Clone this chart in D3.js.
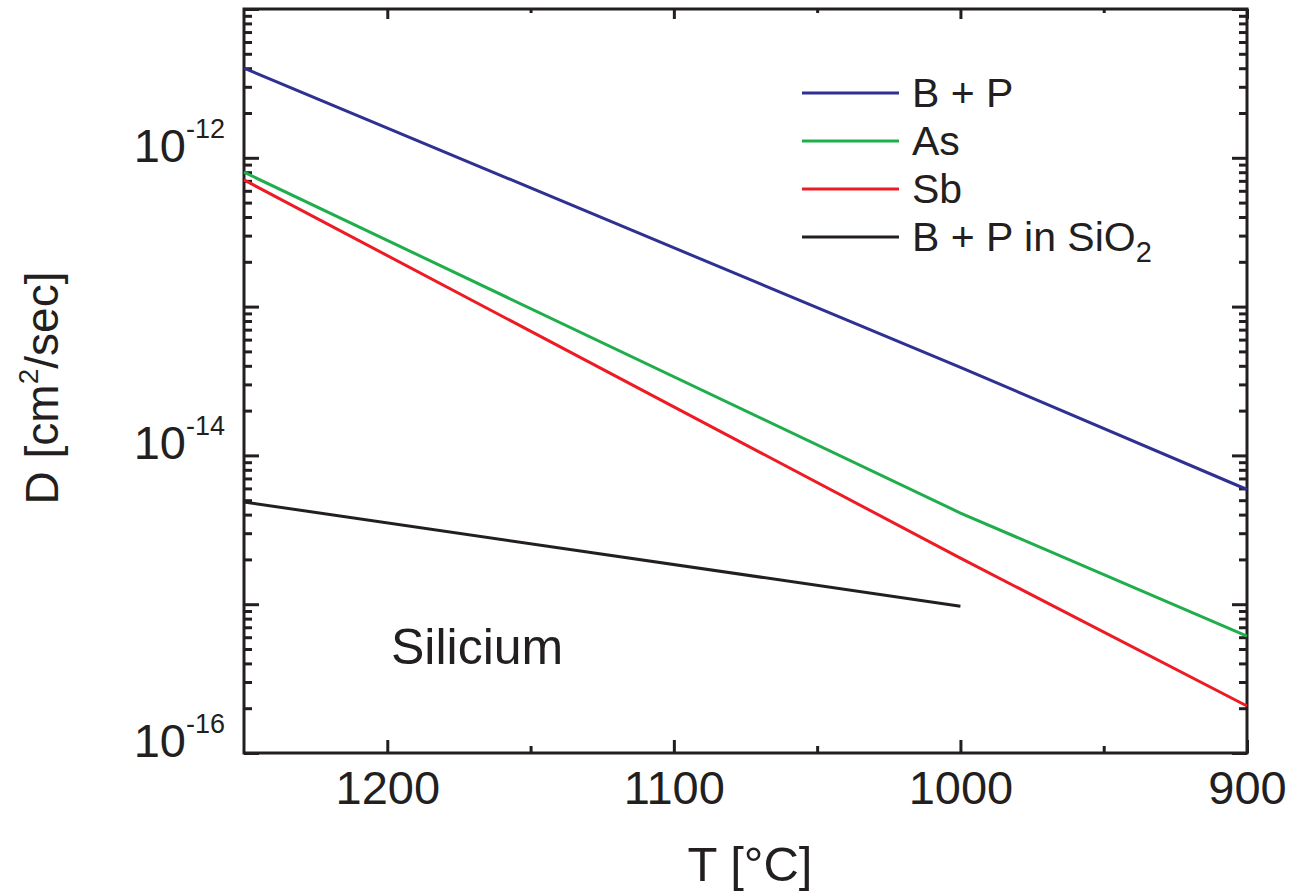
<!DOCTYPE html>
<html lang="en">
<head>
  <meta charset="UTF-8">
  <title>Diffusion coefficients</title>
  <script src="https://d3js.org/d3.v7.min.js"></script>
  <style>
    * { margin: 0; padding: 0; box-sizing: border-box; }
    body { background: #ffffff; font-family: "Liberation Sans", Arial, sans-serif; }
    svg text { fill: #231f20; }
  </style>
</head>
<body>
  <div id="chart"></div>

  <script>
    // Data
    const temps = [1250, 1000, 900];
    const dBP = [4.0e-12, 3.9e-14, 5.9e-15];
    const dAs = [8.0e-13, 4.1e-15, 6.1e-16];
    const dSb = [7.1e-13, 2.04e-15, 2.07e-16];
    const tempsOx = [1250, 1000];
    const dBPox = [4.86e-15, 9.7e-16];

    const seriesNames = ['B + P', 'As', 'Sb', 'B + P in SiO'];
    const seriesColors = ['#2e3192', '#1fae4b', '#ed1c24', '#231f20'];

    const xMajor = [1200, 1100, 1000, 900];
    const xMinor = [1150, 1050, 950];
    const yDecades = [-16, -15, -14, -13, -12, -11];
    const yLabelled = [-16, -14, -12];

    const series = [
      { name: seriesNames[0], color: seriesColors[0], pts: temps.map((t, i) => [t, dBP[i]]) },
      { name: seriesNames[1], color: seriesColors[1], pts: temps.map((t, i) => [t, dAs[i]]) },
      { name: seriesNames[2], color: seriesColors[2], pts: temps.map((t, i) => [t, dSb[i]]) },
      { name: seriesNames[3], color: seriesColors[3], pts: tempsOx.map((t, i) => [t, dBPox[i]]) }
    ];

    const width = 1298, height = 892;
    const plotL = 244, plotR = 1247, plotT = 9, plotB = 753;

    const svg = d3.select('#chart').append('svg')
      .attr('width', width)
      .attr('height', height);

    const x = d3.scaleLinear().domain([1250, 900]).range([plotL, plotR]);
    const y = d3.scaleLog().domain([1e-16, 1e-11]).range([plotB, plotT]);

    const ink = '#231f20';
    const tickFont = 47;

    // minor y values 2..9 per decade
    const yMinor = [];
    yDecades.slice(0, -1).forEach(d => {
      for (let m = 2; m <= 9; m++) yMinor.push(m * Math.pow(10, d));
    });

    function styleAxis(g) {
      g.select('.domain').remove();
      g.selectAll('.tick line').attr('stroke', ink).attr('stroke-width', 3);
    }

    // bottom axis
    svg.append('g').attr('transform', `translate(0,${plotB})`)
      .call(d3.axisBottom(x).tickValues(xMinor).tickSize(-7).tickFormat(''))
      .call(styleAxis);
    const xb = svg.append('g').attr('transform', `translate(0,${plotB})`)
      .call(d3.axisBottom(x).tickValues(xMajor).tickSize(-13).tickPadding(18).tickFormat(d3.format('d')))
      .call(styleAxis);
    xb.selectAll('.tick text')
      .attr('font-size', tickFont)
      .attr('font-family', '"Liberation Sans", Arial, sans-serif')
      .attr('fill', ink);

    // top axis
    svg.append('g').attr('transform', `translate(0,${plotT})`)
      .call(d3.axisTop(x).tickValues(xMinor).tickSize(-4).tickFormat(''))
      .call(styleAxis);
    svg.append('g').attr('transform', `translate(0,${plotT})`)
      .call(d3.axisTop(x).tickValues(xMajor).tickSize(-10).tickFormat(''))
      .call(styleAxis);

    // left axis
    svg.append('g').attr('transform', `translate(${plotL},0)`)
      .call(d3.axisLeft(y).tickValues(yMinor).tickSize(-8).tickFormat(''))
      .call(styleAxis);
    const yl = svg.append('g').attr('transform', `translate(${plotL},0)`)
      .call(d3.axisLeft(y).tickValues(yDecades.map(d => Math.pow(10, d))).tickSize(-15).tickPadding(19).tickFormat(''))
      .call(styleAxis);
    yl.selectAll('.tick text').each(function (v) {
      const e = Math.round(Math.log10(v));
      if (!yLabelled.includes(e)) return;
      const t = d3.select(this)
        .attr('font-family', '"Liberation Sans", Arial, sans-serif')
        .attr('fill', ink);
      t.append('tspan').attr('font-size', tickFont).text('10');
      t.append('tspan').attr('font-size', 27).attr('dy', -24).text(e);
    });

    // right axis
    svg.append('g').attr('transform', `translate(${plotR},0)`)
      .call(d3.axisRight(y).tickValues(yMinor).tickSize(-8).tickFormat(''))
      .call(styleAxis);
    svg.append('g').attr('transform', `translate(${plotR},0)`)
      .call(d3.axisRight(y).tickValues(yDecades.map(d => Math.pow(10, d))).tickSize(-15).tickFormat(''))
      .call(styleAxis);

    // frame
    svg.append('rect')
      .attr('x', plotL).attr('y', plotT)
      .attr('width', plotR - plotL).attr('height', plotB - plotT)
      .attr('fill', 'none').attr('stroke', ink).attr('stroke-width', 3);

    // lines
    const line = d3.line().x(d => x(d[0])).y(d => y(d[1]));
    svg.append('g').selectAll('path')
      .data(series)
      .enter()
      .append('path')
      .attr('d', d => line(d.pts))
      .attr('fill', 'none')
      .attr('stroke', d => d.color)
      .attr('stroke-width', 3);

    // legend
    const legend = svg.append('g');
    const rows = legend.selectAll('g')
      .data(series)
      .enter()
      .append('g')
      .attr('transform', (d, i) => `translate(0,${93 + i * 48})`);
    rows.append('line')
      .attr('x1', 802).attr('x2', 899)
      .attr('stroke', d => d.color)
      .attr('stroke-width', 3);
    const lt = rows.append('text')
      .attr('x', 912).attr('y', 14)
      .attr('font-size', 41)
      .text(d => d.name);
    lt.filter((d, i) => i === 3)
      .append('tspan').attr('font-size', 29).attr('dy', 11).text('2');

    // annotation
    svg.append('text')
      .attr('x', 391).attr('y', 664)
      .attr('font-size', 50)
      .text('Silicium');

    // axis titles
    svg.append('text')
      .attr('x', 750).attr('y', 881)
      .attr('text-anchor', 'middle')
      .attr('font-size', 49)
      .text('T [°C]');

    const yt = svg.append('text')
      .attr('transform', 'translate(58,388) rotate(-90)')
      .attr('text-anchor', 'middle')
      .attr('font-size', 46);
    yt.append('tspan').text('D [cm');
    yt.append('tspan').attr('font-size', 28).attr('dy', -20).text('2');
    yt.append('tspan').attr('dy', 20).text('/sec]');
  </script>
</body>
</html>
